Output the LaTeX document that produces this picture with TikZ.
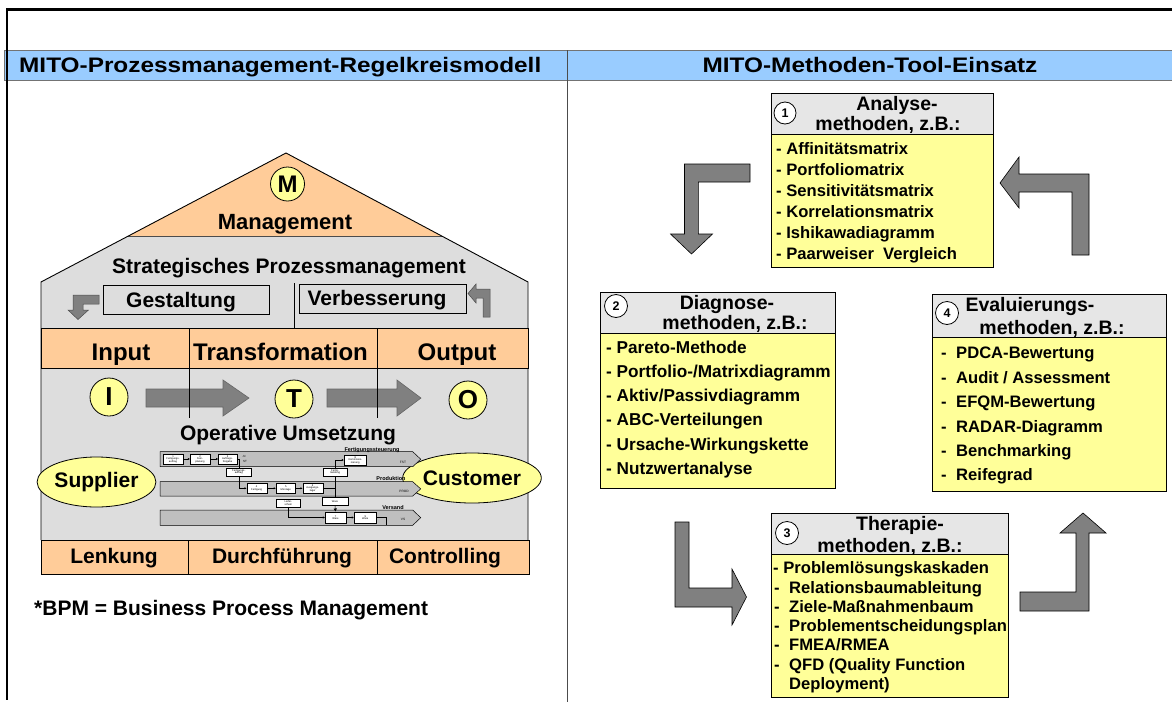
\documentclass[tikz,border=0pt]{standalone}
\usepackage{fontspec}
\setmainfont{Liberation Sans}
\usetikzlibrary{arrows.meta,shapes.geometric}
\definecolor{hdrblue}{HTML}{99CCFF}
\definecolor{orng}{HTML}{FFCC99}
\definecolor{lgray}{HTML}{DDDDDD}
\definecolor{yel}{HTML}{FFFF99}
\definecolor{agray}{HTML}{808080}
\definecolor{lanegray}{HTML}{BFBFBF}
\definecolor{boxhdr}{HTML}{E6E6E6}
\newcommand\fsz[1]{\fontsize{#1}{#1}\selectfont}
\begin{document}
\begin{tikzpicture}[x=1pt,y=-1pt,line join=miter,
  lbl/.style={inner sep=0,anchor=base},
  lblw/.style={inner sep=0,anchor=base west},
  blockarrow/.style={fill=agray,draw=black,line width=0.6},
  smallarrow/.style={fill=agray,draw=black!70,line width=0.5},
  pbox/.style={draw,fill=white,inner sep=0,line width=0.4,font=\fsz{2.6},align=center},
  pdoc/.style={draw,fill=white,inner sep=0,line width=0.4,font=\fsz{2.6},align=center},
  lane/.style={fill=lanegray,draw=black,line width=0.5},
  conn/.style={line width=0.45},
  ctip/.style={-{Triangle[length=2pt,width=2pt]}},
  hdrfont/.style={font=\fsz{21}\bfseries},
  bandfont/.style={font=\fsz{24}\bfseries},
  mainfont/.style={font=\fsz{21}\bfseries},
  boxhfont/.style={font=\fsz{19.5}\bfseries},
  itemfont/.style={font=\fsz{16.6}\bfseries},
  itemfontb/.style={font=\fsz{17.2}\bfseries},
  numcirc/.style={circle,draw,fill=white,inner sep=0,line width=0.8,font=\fsz{12.5}\bfseries},
  letcirc/.style={circle,draw,fill=yel,inner sep=0,line width=0.8,font=\fsz{26}\bfseries},
  hboxr/.style={fill=boxhdr,draw=black,line width=0.6},
  bboxr/.style={fill=yel,draw=black,line width=0.6}
]
\useasboundingbox (0,0) rectangle (1172,707);
\fill[white] (0,0) rectangle (1172,707);

% ---------- header bar and frame ----------
\draw[draw=black!55,fill=hdrblue,line width=0.7] (4,50) rectangle (1174,80);
\draw[black!70,line width=0.8] (567,50) -- (567,702);
\draw[line width=2.6] (1174,9.5) -- (7,9.5) -- (7,700);
\node[lblw,hdrfont] (h1) at (19,72.6) {\scalebox{1.16}[1]{MITO-Prozessmanagement-Regelkreismodell}};
\node[lbl,hdrfont] (h2) at (870,72.6) {\scalebox{1.16}[1]{MITO-Methoden-Tool-Einsatz}};

% ---------- house ----------
\fill[lgray] (286,153) -- (528,282) -- (528,540) -- (41,540) -- (41,282) -- cycle;
\fill[orng] (286,153) -- (442,236) -- (128,236) -- cycle;
\draw[black!70,line width=0.6] (128,236) -- (442,236);
\draw[line width=0.9] (41,540) -- (41,282) -- (286,153) -- (528,282) -- (528,540);

\node[letcirc,minimum size=34,font=\fsz{24}\bfseries] (cM) at (287.5,184) {M};
\node[lbl,font=\fsz{22}\bfseries] (tMan) at (285,229) {Management};
\node[lbl,mainfont] (tStr) at (289,273.5) {Strategisches Prozessmanagement};

\draw[line width=0.8] (103,285) rectangle (269,314);
\node[lbl,mainfont] (tGes) at (181,307.5) {Gestaltung};
\draw[line width=0.8] (299,284) rectangle (466,313);
\node[lbl,mainfont] (tVer) at (377,305) {Verbesserung};
\draw[line width=0.7] (294,283) -- (294,328);

% small arrows
\draw[smallarrow] (99,295) -- (73,295) -- (73,310) -- (68,310) -- (78,319.5) -- (88.5,310) -- (83,310) -- (83,304) -- (99,304) -- cycle;
\draw[smallarrow] (490,317) -- (490,289) -- (476,289) -- (476,284) -- (468,293.5) -- (476,303) -- (476,298) -- (483,298) -- (483,317) -- cycle;

% band Input / Transformation / Output
\draw[fill=orng,line width=0.8] (41,328) rectangle (528,368);
\node[lbl,bandfont] (tIn) at (121,360.6) {Input};
\node[lbl,bandfont] (tTr) at (280.5,360.6) {Transformation};
\node[lbl,bandfont] (tOu) at (457,360.6) {Output};

% I T O
\node[letcirc,minimum size=38] (cI) at (109,397) {I};
\node[letcirc,minimum size=38] (cT) at (294,399) {T};
\node[letcirc,minimum size=38] (cO) at (468,400) {O};
\draw[blockarrow,draw=black!60] (146,389) -- (223,389) -- (223,380) -- (249,398) -- (223,416) -- (223,407) -- (146,407) -- cycle;
\draw[blockarrow,draw=black!60] (327,389) -- (397,389) -- (397,380) -- (421,398) -- (397,416) -- (397,407) -- (327,407) -- cycle;
\draw[line width=0.8] (189,328) -- (189,418);
\draw[line width=0.8] (377,328) -- (377,418);

\node[lbl,mainfont] (tOp) at (288,440.5) {Operative Umsetzung};
\node[ellipse,draw,fill=yel,line width=0.8,minimum width=107,minimum height=50,inner sep=0,mainfont] (sup) at (96.5,482) {Supplier};
\node[ellipse,draw,fill=yel,line width=0.8,minimum width=109,minimum height=50,inner sep=0,mainfont] (cus) at (472,478) {Customer};

% ---------- mini process diagram ----------
\draw[lane] (160,451.7) -- (412.7,451.7) -- (420.7,459.2) -- (412.7,466.7) -- (160,466.7) -- cycle;
\draw[lane] (160,481.7) -- (412.7,481.7) -- (420.7,488.9) -- (412.7,496) -- (160,496) -- cycle;
\draw[lane] (160,510) -- (412.7,510) -- (420.7,517.7) -- (412.7,525.3) -- (160,525.3) -- cycle;
\node[lbl,font=\fsz{5.5}\bfseries] (lnF) at (372,451) {Fertigungssteuerung};
\node[lbl,font=\fsz{5.5}\bfseries] (lnP) at (391,480) {Produktion};
\node[lbl,font=\fsz{5.5}\bfseries] (lnV) at (393,509) {Versand};
\node[lbl,font=\fsz{3.2}] (lbF) at (403,463) {FST};
\node[lbl,font=\fsz{3.2}] (lbP) at (404,492.5) {PROD};
\node[lbl,font=\fsz{3.2}] (lbV) at (403,520) {VS};
\node[lbl,font=\fsz{3}] (lbN) at (244,457) {-N};
\node[lbl,font=\fsz{3}] (lbS) at (245,462) {ST};

\node[pbox,minimum width=20.6,minimum height=10] (b1) at (173,459) {1\\Fertigungs-\\auftrag};
\node[pbox,minimum width=20,minimum height=10] (b2) at (200,459) {2\\Fein-\\planung};
\node[pbox,minimum width=18.4,minimum height=10] (b3) at (227.5,459) {3\\Auftrags-\\freigabe};
\node[pbox,minimum width=22.7,minimum height=10] (b8) at (355.3,460) {8\\Kommissio-\\nierung};
\node[pdoc,minimum width=25.7,minimum height=8] (d1) at (238.8,472) {Fertigungs-\\auftrag};
\node[pdoc,minimum width=24,minimum height=8] (d2) at (335,472) {Fertig-\\meldung};
\node[pbox,minimum width=20,minimum height=10] (b4) at (256.7,488.3) {4\\Fertigung};
\node[pbox,minimum width=19.7,minimum height=10] (b5) at (285.8,488.3) {5\\Montage};
\node[pbox,minimum width=20,minimum height=10] (b6) at (312.7,488.3) {6\\Ausgangs-\\lager};
\node[pdoc,minimum width=23.3,minimum height=7.4] (d3) at (288.3,503) {Liefer-\\schein};
\node[pdoc,minimum width=26,minimum height=7.7] (d4) at (335,501.2) {Ware};
\node[pbox,minimum width=21,minimum height=11.6] (b7) at (335.5,517.5) {7\\Ware};
\node[pbox,minimum width=22.7,minimum height=11.6] (b9) at (365.3,517.5) {9\\Ware};
\coordinate (j6) at (335,488.3);
\coordinate (e9) at (386,525.3);

\draw[conn,ctip] (b1) -- (b2);
\draw[conn,ctip] (b2) -- (b3);
\draw[conn] (b3.east) -| (d1.north);
\draw[conn,ctip] (d1.south) |- (b4.west);
\draw[conn,ctip] (b4) -- (b5);
\draw[conn,ctip] (b5) -- (b6);
\draw[conn] (b6.east) -- (j6);
\draw[conn] (j6) -- (d2.south);
\draw[conn] (j6) -- (d4.north);
\draw[conn,ctip] (d2.north) |- (b8.west);
\draw[conn,-{Triangle[length=3pt,width=3pt]}] (d4.south) -- (b7.north);
\draw[conn,ctip] (d3.south) |- (b7.west);
\draw[conn,ctip] (b7) -- (b9);
\draw[conn] (b9.east) -| (e9);

% bottom band
\draw[fill=orng,line width=0.8] (41,540) rectangle (529,574);
\draw[line width=0.8] (188,540) -- (188,574);
\draw[line width=0.8] (377,540) -- (377,574);
\node[lbl,mainfont] (tLe) at (114,563.5) {Lenkung};
\node[lbl,mainfont] (tDu) at (282,563.5) {Durchführung};
\node[lbl,mainfont] (tCo) at (445,563.5) {Controlling};

\node[lblw,mainfont] (tBPM) at (34,615.6) {*BPM = Business Process Management};

% ---------- right side: block arrows ----------
\draw[blockarrow] (750,164) -- (684.5,164) -- (684.5,234) -- (670.5,234) -- (691.5,254) -- (712.5,234) -- (698.4,234) -- (698.4,182) -- (750,182) -- cycle;
\draw[blockarrow] (1089,255) -- (1089,174) -- (1019,174) -- (1019,157) -- (1000,183) -- (1019,208) -- (1019,192) -- (1072,192) -- (1072,255) -- cycle;
\draw[blockarrow] (675,522) -- (689,522) -- (689,588) -- (732,588) -- (732,569) -- (746.5,597) -- (732,625) -- (732,607) -- (675,607) -- cycle;
\draw[blockarrow] (1020,611) -- (1020,592) -- (1076,592) -- (1076,533) -- (1060,533) -- (1083,513) -- (1106,533) -- (1089,533) -- (1089,611) -- cycle;

% ---------- box 1 ----------
\draw[hboxr] (771,93) rectangle (993,134);
\draw[bboxr] (771,134) rectangle (993,267);
\node[numcirc,minimum size=22] (n1) at (785,113) {1};
\node[lbl,boxhfont] (b1h1) at (897,110) {Analyse-};
\node[lbl,boxhfont] (b1h2) at (888,130) {methoden, z.B.:};
\node[lblw,itemfont] (a1) at (776,154) {- Affinitätsmatrix};
\node[lblw,itemfont] (a2) at (776,175) {- Portfoliomatrix};
\node[lblw,itemfont] (a3) at (776,196) {- Sensitivitätsmatrix};
\node[lblw,itemfont] (a4) at (776,217) {- Korrelationsmatrix};
\node[lblw,itemfont] (a5) at (776,238) {- Ishikawadiagramm};
\node[lblw,itemfont] (a6) at (776,259) {- Paarweiser\ \ Vergleich};

% ---------- box 2 ----------
\draw[hboxr] (600,292) rectangle (835,333);
\draw[bboxr] (600,333) rectangle (835,488);
\node[numcirc,minimum size=23] (n2) at (616,306) {2};
\node[lbl,boxhfont] (b2h1) at (727,309.8) {Diagnose-};
\node[lbl,boxhfont] (b2h2) at (735,329.8) {methoden, z.B.:};
\node[lblw,itemfontb] (c1) at (606,353) {- Pareto-Methode};
\node[lblw,itemfontb] (c2) at (606,377) {- Portfolio-/Matrixdiagramm};
\node[lblw,itemfontb] (c3) at (606,401) {- Aktiv/Passivdiagramm};
\node[lblw,itemfontb] (c4) at (606,425) {- ABC-Verteilungen};
\node[lblw,itemfontb] (c5) at (606,450) {- Ursache-Wirkungskette};
\node[lblw,itemfontb] (c6) at (606,474) {- Nutzwertanalyse};

% ---------- box 4 ----------
\draw[hboxr] (932,294) rectangle (1166,337);
\draw[bboxr] (932,337) rectangle (1166,491);
\node[numcirc,minimum size=23] (n4) at (947,313) {4};
\node[lbl,boxhfont] (b4h1) at (1030,311) {Evaluierungs-};
\node[lbl,boxhfont] (b4h2) at (1052,334) {methoden, z.B.:};
\node[lblw,itemfont] (e1) at (941,358) {\makebox[15pt][l]{-}PDCA-Bewertung};
\node[lblw,itemfont] (e2) at (941,383) {\makebox[15pt][l]{-}Audit / Assessment};
\node[lblw,itemfont] (e3) at (941,407) {\makebox[15pt][l]{-}EFQM-Bewertung};
\node[lblw,itemfont] (e4) at (941,432) {\makebox[15pt][l]{-}RADAR-Diagramm};
\node[lblw,itemfont] (e5) at (941,456) {\makebox[15pt][l]{-}Benchmarking};
\node[lblw,itemfont] (e6) at (941,480) {\makebox[15pt][l]{-}Reifegrad};

% ---------- box 3 ----------
\draw[hboxr] (771,513) rectangle (1008,554);
\draw[bboxr] (771,554) rectangle (1008,697);
\node[numcirc,minimum size=23] (n3) at (787,533) {3};
\node[lbl,boxhfont] (b3h1) at (900,530) {Therapie-};
\node[lbl,boxhfont] (b3h2) at (890,552) {methoden, z.B.:};
\node[lblw,itemfont] (f1) at (773,573) {- Problemlösungskaskaden};
\node[lblw,itemfont] (f2) at (774,593) {\makebox[15pt][l]{-}Relationsbaumableitung};
\node[lblw,itemfont] (f3) at (774,612) {\makebox[15pt][l]{-}Ziele-Maßnahmenbaum};
\node[lblw,itemfont] (f4) at (774,631) {\makebox[15pt][l]{-}Problementscheidungsplan};
\node[lblw,itemfont] (f5) at (774,650) {\makebox[15pt][l]{-}FMEA/RMEA};
\node[lblw,itemfont] (f6) at (774,670) {\makebox[15pt][l]{-}QFD (Quality Function};
\node[lblw,itemfont] (f7) at (789,689) {Deployment)};
\end{tikzpicture}
\end{document}
